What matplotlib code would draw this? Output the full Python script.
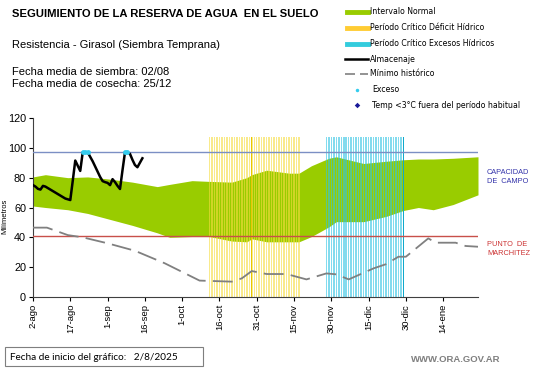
import numpy as np
import matplotlib
matplotlib.use("Agg")
import matplotlib.pyplot as plt
from matplotlib.lines import Line2D
from matplotlib.patches import Rectangle

plt.rcParams["font.family"] = ["Liberation Sans", "DejaVu Sans"]

# ── data (days counted from 2-ago) ───────────────────────────────────────────
tick_days = [0, 15, 30, 45, 60, 75, 90, 105, 120, 135, 150, 165]
tick_labels = ["2-ago", "17-ago", "1-sep", "16-sep", "1-oct", "16-oct",
               "31-oct", "15-nov", "30-nov", "15-dic", "30-dic", "14-ene"]

band_days = [0, 5, 14, 22, 31, 40, 50, 55, 64, 71, 80, 86, 88, 94, 103, 107,
             112, 119, 122, 133, 142, 149, 155, 161, 169, 179]
band_upper = [80.5, 82, 80, 80.5, 79, 77, 74, 75.5, 78, 77.5, 77, 80, 82, 85,
              83, 83, 88, 93, 94, 89.5, 91, 92, 92.5, 92.5, 93, 94]
band_lower = [61, 60, 58.5, 56, 52, 48, 43, 40, 40.5, 40.5, 37.5, 37, 39, 37,
              37, 37, 40.5, 47, 50.5, 50.5, 54, 58, 60, 58.5, 62, 68.5]

storage = [75, 74, 72.5, 72, 74.5, 74, 73, 72, 71, 70, 69, 68, 67, 66, 65.5,
           65, 78, 91.5, 88, 84.5, 97, 97, 97, 94, 91, 87.5, 84, 80.5, 77.7,
           77, 76.5, 75, 79, 77, 74.5, 72.4, 85, 97, 97, 96, 92, 88.5, 87,
           90, 93]
storage_days = list(range(len(storage)))

exceso_days = [20, 21, 22, 37, 38]

min_days = [0, 5.6, 14, 20, 30, 41, 53, 67, 80, 84, 88, 94, 102, 110, 118,
            122, 127, 137, 142, 147, 150, 159, 162, 170, 174, 179]
min_hist = [46.5, 46.5, 41.5, 40, 36, 31, 22.6, 11, 10.3, 12.5, 17.4, 15.4,
            15.4, 11.8, 15.8, 15.2, 11.8, 19.2, 22, 27, 27, 39.3, 36.4, 36.4,
            34.2, 33.7]

deficit_days = list(range(71, 108))
exceso_period_days = list(range(118, 150))
period_top = 107

field_capacity = 97
wilting_point = 41

# ── figure ───────────────────────────────────────────────────────────────────
W, H = 541, 368
fig = plt.figure(figsize=(W / 100, H / 100), dpi=100)
fig.patch.set_facecolor("white")
ax = fig.add_axes([33 / W, 1 - 297 / H, (478 - 33) / W, (297 - 118) / H])

ax.fill_between(band_days, band_lower, band_upper, color="#99cc00", lw=0, zorder=1)

ax.bar(deficit_days, [period_top] * len(deficit_days), width=0.6,
       color="#f5dc40", alpha=0.6, lw=0, zorder=2)
ax.bar(exceso_period_days, [period_top] * len(exceso_period_days), width=0.6,
       color="#30c4e4", alpha=0.6, lw=0, zorder=2)
ax.bar([deficit_days[17]], [period_top], width=0.5, color="#e8c800", lw=0, zorder=2)
ax.bar([exceso_period_days[-1]], [period_top], width=0.6, color="#10a8cc", lw=0, zorder=2)

ax.axhline(field_capacity, color="#7b8fc4", lw=1, zorder=3)
ax.axhline(wilting_point, color="#c8504a", lw=1, zorder=3)

ax.plot(min_days, min_hist, color="#808080", lw=1.3, dashes=(11, 4), zorder=4)
ax.plot(storage_days, storage, color="black", lw=1.8, zorder=5)
ax.plot(exceso_days, [field_capacity] * len(exceso_days), "o", color="#33ccee",
        ms=3.5, mec="none", zorder=6)

ax.set_xlim(0, 179)
ax.set_ylim(0, 120)
ax.set_yticks(range(0, 121, 20))
ax.set_xticks(tick_days)
ax.set_xticklabels(tick_labels, rotation=90, fontsize=6.8)
ax.tick_params(axis="y", labelsize=7.8, length=3, pad=2)
ax.tick_params(axis="x", length=3, pad=2)
for s in ["top", "right"]:
    ax.spines[s].set_visible(False)
for s in ["left", "bottom"]:
    ax.spines[s].set_color("#404040")
    ax.spines[s].set_linewidth(0.8)
ax.set_ylabel("Milímetros", fontsize=5.5)
ax.yaxis.set_label_coords(-0.055, 0.45)

# side labels
fig.text(487 / W, 1 - 177 / H, "CAPACIDAD\nDE  CAMPO", color="#3333aa",
         fontsize=5.3, va="center", ha="left", linespacing=1.25)
fig.text(487 / W, 1 - 249 / H, "PUNTO  DE\nMARCHITEZ", color="#cc3333",
         fontsize=5.3, va="center", ha="left", linespacing=1.25)

# header text
fig.text(12 / W, 1 - 14 / H, "SEGUIMIENTO DE LA RESERVA DE AGUA  EN EL SUELO",
         fontsize=8.1, fontweight="bold", va="center")
fig.text(12 / W, 1 - 45 / H, "Resistencia - Girasol (Siembra Temprana)",
         fontsize=8.0, va="center")
fig.text(12 / W, 1 - 72 / H, "Fecha media de siembra: 02/08", fontsize=8.0, va="center")
fig.text(12 / W, 1 - 84 / H, "Fecha media de cosecha: 25/12", fontsize=8.0, va="center")

# legend (manual)
leg_y = [12, 28, 44, 59, 74, 90, 105]
leg_text = ["Intervalo Normal", "Período Crítico Déficit Hídrico",
            "Período Crítico Excesos Hídricos", "Almacenaje", "Mínimo histórico",
            "Exceso", "Temp <3°C fuera del período habitual"]
tr = fig.transFigure
fig.add_artist(Line2D([347 / W, 368 / W], [1 - 12 / H] * 2, color="#99cc00", lw=3.5, transform=tr))
fig.add_artist(Line2D([347 / W, 368 / W], [1 - 28 / H] * 2, color="#ffcc33", lw=3.5, transform=tr))
fig.add_artist(Line2D([347 / W, 368 / W], [1 - 44 / H] * 2, color="#33ccdd", lw=3.5, transform=tr))
fig.add_artist(Line2D([345 / W, 368 / W], [1 - 59 / H] * 2, color="black", lw=1.8, transform=tr))
fig.add_artist(Line2D([345 / W, 368 / W], [1 - 74 / H] * 2, color="#808080", lw=1.2,
                      dashes=(6, 3), transform=tr))
fig.add_artist(Line2D([357 / W], [1 - 90 / H], marker="o", color="#33ccee", ms=2.5,
                      mec="none", transform=tr))
fig.add_artist(Line2D([357 / W], [1 - 105 / H], marker="D", color="#1a1a99", ms=2.8,
                      mec="none", transform=tr))
for i, (y, t) in enumerate(zip(leg_y, leg_text)):
    x = 372 if i >= 5 else 369.5
    fig.text(x / W, 1 - y / H, t, fontsize=5.6, va="center", ha="left",
             family=["DejaVu Sans"])

# footer
fig.add_artist(Rectangle((5 / W, 1 - 366 / H), 198 / W, 19 / H, transform=tr,
                         fill=False, edgecolor="#7f7f7f", lw=0.8))
fig.text(10 / W, 1 - 357 / H, "Fecha de inicio del gráfico:   2/8/2025",
         fontsize=7.2, va="center", family=["Lato", "DejaVu Sans"])
fig.text(500 / W, 1 - 360 / H, "WWW.ORA.GOV.AR", fontsize=6.8, fontweight="bold",
         color="#7f7f7f", va="center", ha="right")

fig.savefig("out.png", dpi=100)
